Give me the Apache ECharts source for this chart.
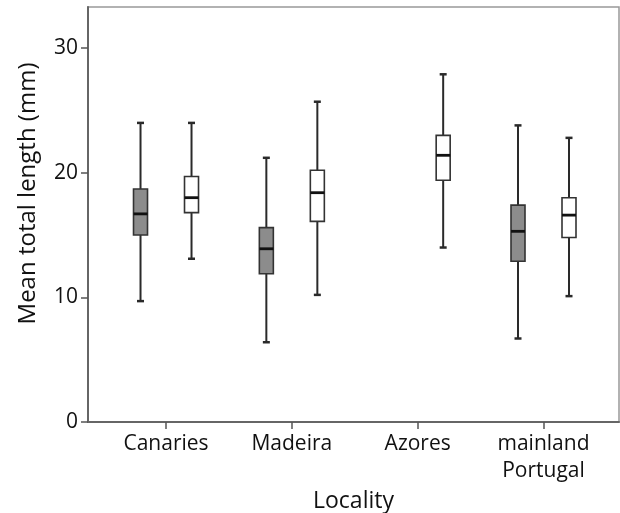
<!DOCTYPE html>
<html>
<head>
<meta charset="utf-8">
<script src="https://cdn.jsdelivr.net/npm/echarts@6/dist/echarts.min.js"></script>
<style>
  html, body { margin: 0; padding: 0; background: #fff; }
  #chart { width: 620px; height: 513px; }
</style>
</head>
<body>
<div id="chart"></div>
<script>
// 分类
const localities = ['Canaries', 'Madeira', 'Azores', 'mainland\nPortugal']
const yTicks = [0, 10, 20, 30]
// [min, Q1, median, Q3, max]，null = 无数据
const greyStats = [
    [9.7, 15.0, 16.7, 18.7, 24.0],
    [6.4, 11.9, 13.9, 15.6, 21.2],
    null,
    [6.7, 12.9, 15.3, 17.4, 23.8]
]
const whiteStats = [
    [13.1, 16.8, 18.0, 19.7, 24.0],
    [10.2, 16.1, 18.4, 20.2, 25.7],
    [14.0, 19.4, 21.4, 23.0, 27.9],
    [10.1, 14.8, 16.6, 18.0, 22.8]
]

const FONT = '"Open Sans", sans-serif'
const positions = localities.map((_, i) => i + 1)

function toData(stats) {
    const out = []
    stats.forEach((s, i) => {
        if (s) out.push([i + 1].concat(s))
    })
    return out
}

// 箱线图（自定义）
function boxSeries(name, stats, offset, fill) {
    return {
        name: name,
        type: 'custom',
        data: toData(stats),
        encode: { x: 0, y: [1, 2, 3, 4, 5] },
        renderItem: (params, api) => {
            const x = api.value(0)
            const pMin = api.coord([x, api.value(1)])
            const pQ1 = api.coord([x, api.value(2)])
            const pMed = api.coord([x, api.value(3)])
            const pQ3 = api.coord([x, api.value(4)])
            const pMax = api.coord([x, api.value(5)])
            const cx = pMed[0] + offset
            const hw = 7
            const cap = 3.5
            const stroke = '#2a2a2a'
            return {
                type: 'group',
                children: [
                    {
                        type: 'line',
                        shape: { x1: cx, y1: pMin[1], x2: cx, y2: pMax[1] },
                        style: { stroke: stroke, lineWidth: 2 }
                    },
                    {
                        type: 'line',
                        shape: { x1: cx - cap, y1: pMax[1], x2: cx + cap, y2: pMax[1] },
                        style: { stroke: stroke, lineWidth: 2.5 }
                    },
                    {
                        type: 'line',
                        shape: { x1: cx - cap, y1: pMin[1], x2: cx + cap, y2: pMin[1] },
                        style: { stroke: stroke, lineWidth: 2.5 }
                    },
                    {
                        type: 'rect',
                        shape: { x: cx - hw, y: pQ3[1], width: hw * 2, height: pQ1[1] - pQ3[1] },
                        style: { fill: fill, stroke: '#333', lineWidth: 1.6 }
                    },
                    {
                        type: 'line',
                        shape: { x1: cx - hw, y1: pMed[1], x2: cx + hw, y2: pMed[1] },
                        style: { stroke: '#111', lineWidth: 2.8 }
                    }
                ]
            }
        }
    }
}

const option = {
    animation: false,
    backgroundColor: '#fff',
    grid: {
        left: 88,
        right: 1,
        top: 7,
        bottom: 91,
        outerBoundsMode: 'none',
        containLabel: false,
        show: true,
        borderColor: '#999',
        borderWidth: 1.5
    },
    xAxis: {
        type: 'value',
        min: 0.38,
        max: 4.6,
        splitLine: { show: false },
        axisLine: { show: true, lineStyle: { color: '#666', width: 2 } },
        axisTick: {
            show: true,
            customValues: positions,
            length: 7,
            lineStyle: { color: '#555', width: 1.5 }
        },
        axisLabel: {
            customValues: positions,
            formatter: (v) => localities[Math.round(v) - 1] || '',
            fontFamily: FONT,
            fontSize: 21,
            lineHeight: 27,
            color: '#111',
            margin: 9
        },
        name: 'Locality',
        nameLocation: 'middle',
        nameGap: 63,
        nameTextStyle: { fontFamily: FONT, fontSize: 23, color: '#111' }
    },
    yAxis: {
        type: 'value',
        min: 0,
        max: 33.3,
        interval: 10,
        splitLine: { show: false },
        axisLine: { show: true, lineStyle: { color: '#666', width: 2 } },
        axisTick: {
            show: true,
            customValues: yTicks,
            length: 7,
            lineStyle: { color: '#555', width: 1.5 }
        },
        axisLabel: {
            customValues: yTicks,
            fontFamily: FONT,
            fontSize: 21,
            color: '#111',
            margin: 10
        },
        name: 'Mean total length (mm)',
        nameLocation: 'middle',
        nameGap: 48,
        nameTextStyle: {
            fontFamily: FONT,
            fontSize: 24,
            color: '#111',
            padding: [0, 0, 0, 42]
        }
    },
    series: [
        boxSeries('grey', greyStats, -25.5, '#8c8c8c'),
        boxSeries('white', whiteStats, 25.5, '#ffffff')
    ]
}

const myChart = echarts.init(document.getElementById('chart'))
myChart.setOption(option)
window.addEventListener('resize', () => {
    myChart.resize()
})
</script>
</body>
</html>
